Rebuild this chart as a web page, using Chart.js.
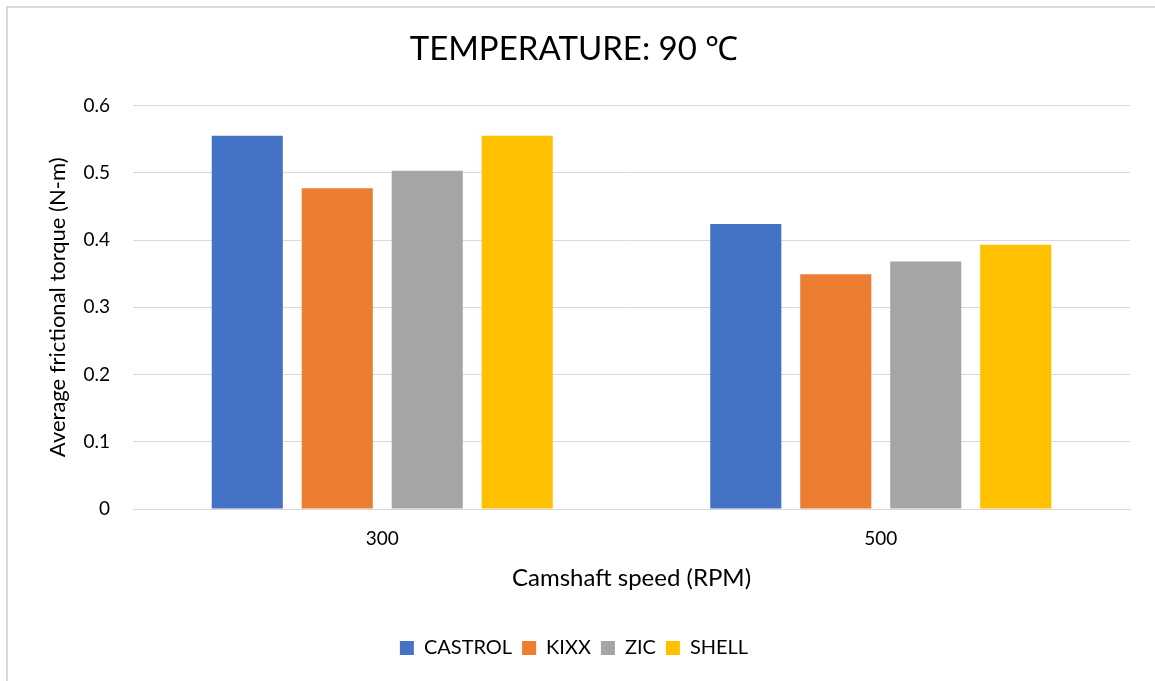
<!DOCTYPE html>
<html>
<head>
<meta charset="utf-8">
<script src="https://cdn.jsdelivr.net/npm/chart.js@4"></script>
<style>
  html, body { margin: 0; padding: 0; background: #fff; }
  #wrap { position: relative; width: 1155px; height: 681px; overflow: hidden; }
  #frame { position: absolute; left: 6px; top: 6px; width: 1200px; height: 700px;
           border-left: 2px solid #d9d9d9; border-top: 2px solid #d9d9d9; pointer-events: none; }
  canvas { position: absolute; left: 0; top: 0; }
</style>
</head>
<body>
<div id="wrap">
  <canvas id="main-chart" width="1155" height="681"></canvas>
  <div id="frame"></div>
</div>
<script>
// ── Data ──────────────────────────────────────────────────────────────────────
const categories = ["300", "500"];
const castrol = [0.555, 0.424];
const kixx    = [0.477, 0.349];
const zic     = [0.503, 0.368];
const shell   = [0.555, 0.393];
const yTicks  = [0, 0.1, 0.2, 0.3, 0.4, 0.5, 0.6];

const FONT = "Lato, 'Open Sans', sans-serif";
const series = [
  { label: "CASTROL", values: castrol, color: "#4472C4" },
  { label: "KIXX",    values: kixx,    color: "#ED7D31" },
  { label: "ZIC",     values: zic,     color: "#A5A5A5" },
  { label: "SHELL",   values: shell,   color: "#FFC000" },
];

// ── Chart ─────────────────────────────────────────────────────────────────────
function renderChart() {
  const ctx = document.getElementById("main-chart");
  new Chart(ctx, {
    type: "bar",
    data: {
      labels: categories,
      datasets: series.map(s => ({
        label: s.label,
        data: s.values,
        backgroundColor: s.color,
        borderWidth: 0,
        categoryPercentage: 0.722,
        barPercentage: 0.79,
      })),
    },
    options: {
      responsive: false,
      animation: false,
      layout: { padding: { left: 18, right: 25, top: 0, bottom: 13 } },
      plugins: {
        title: {
          display: true,
          text: "TEMPERATURE: 90 ℃",
          color: "#000",
          font: { family: FONT, size: 33, weight: "normal" },
          padding: { top: 30, bottom: 36 },
        },
        legend: {
          position: "bottom",
          labels: {
            color: "#000",
            font: { family: FONT, size: 20 },
            boxWidth: 14,
            boxHeight: 14,
            padding: 10,
          },
        },
        tooltip: { enabled: false },
      },
      scales: {
        x: {
          grid: { display: false, drawTicks: false },
          border: { display: true, color: "#d9d9d9", width: 1 },
          ticks: { color: "#000", font: { family: FONT, size: 19 }, padding: 18 },
          title: {
            display: true,
            text: "Camshaft speed (RPM)",
            color: "#000",
            font: { family: FONT, size: 24 },
            padding: { top: 10, bottom: 35 },
          },
          afterFit: s => { s.height = 119; },
        },
        y: {
          min: 0,
          max: 0.6,
          afterBuildTicks: s => { s.ticks = yTicks.map(v => ({ value: v })); },
          grid: { color: "#d9d9d9", lineWidth: 1, drawTicks: false },
          border: { display: false },
          ticks: {
            color: "#000",
            font: { family: FONT, size: 19 },
            padding: 23,
            callback: v => String(v),
          },
          title: {
            display: true,
            text: "Average frictional torque (N-m)",
            color: "#000",
            font: { family: FONT, size: 22 },
            padding: { top: 27, bottom: 0 },
          },
          afterFit: s => { s.width = 115; },
        },
      },
    },
  });
}

document.addEventListener("DOMContentLoaded", renderChart);
</script>
</body>
</html>
